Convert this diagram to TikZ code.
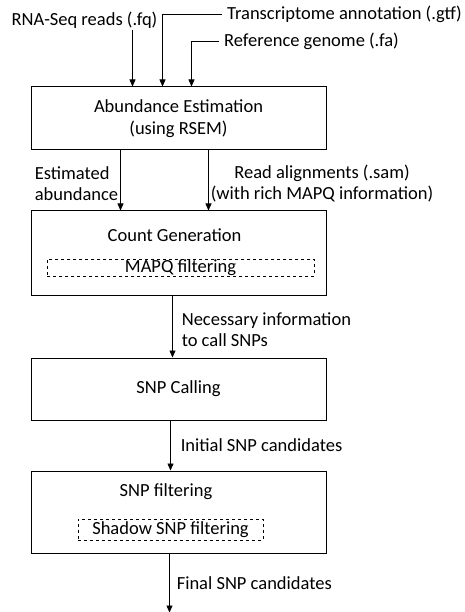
\documentclass[tikz,border=0pt]{standalone}
\usepackage{fontspec}
\setmainfont{Carlito}
\usepackage{tikz}
\usetikzlibrary{positioning}
\usetikzlibrary{calc}
\usetikzlibrary{arrows.meta}

\begin{document}
\begin{tikzpicture}[
        x=1pt, y=-1pt,
        font=\fontsize{18.5}{21.5}\selectfont,
        stage/.style={rectangle, draw=black, line width=1pt, minimum width=295pt, align=center, inner sep=0pt},
        sub/.style={rectangle, draw=black, dashed, line width=0.8pt, inner sep=0pt},
        lbl/.style={inner sep=2pt},
        input/.style={inner xsep=5pt, inner ysep=2pt, anchor=west},
        flow/.style={-{Triangle[length=7pt,width=6pt]}, line width=0.6pt}
    ]
    \useasboundingbox (0,0) rectangle (464,612);

    \node[stage, minimum height=63pt] (abund) at (178.5,118.5) {Abundance Estimation\\(using RSEM)};
    \node[stage, minimum height=84pt] (count) [below=60pt of abund] {};
    \node (count_t) at ([xshift=-4pt,yshift=-25pt]count.north) {Count Generation};
    \node[sub, minimum width=267pt, minimum height=17pt] (mapq) at ([xshift=2pt,yshift=-14.5pt]count.center) {MAPQ filtering};
    \node[stage, minimum height=62pt] (call) [below=62pt of count] {SNP Calling};
    \node[stage, minimum height=82pt] (filt) [below=50pt of call] {};
    \node (filt_t) at ([xshift=-12.5pt,yshift=-21pt]filt.north) {SNP filtering};
    \node[sub, minimum width=185pt, minimum height=21pt] (shadow) at ([xshift=-8pt,yshift=-17.5pt]filt.center) {Shadow SNP filtering};

    % inputs
    \node[lbl] (rna) at (84.5,20) {RNA-Seq reads (.fq)};
    \node[input] (gtf) at (222,14) {Transcriptome annotation (.gtf)};
    \node[input] (fa) at (219,41) {Reference genome (.fa)};
    \coordinate (in_1) at ([xshift=102pt]abund.north west);
    \coordinate (in_2) at ([xshift=132pt]abund.north west);
    \coordinate (in_3) at ([xshift=161pt]abund.north west);
    \coordinate (out) at ([xshift=139pt,yshift=-59pt]filt.south west);

    \draw[flow] (rna.south -| in_1) to (in_1);
    \draw[flow] (gtf.west) -| (in_2);
    \draw[flow] (fa.west) -| (in_3);

    \draw[flow] ([xshift=90pt]abund.south west) to node[lbl, left, align=left, pos=0.55] {Estimated\\abundance} ([xshift=90pt]count.north west);
    \draw[flow] ([xshift=178pt]abund.south west) to node[lbl, right, align=center, pos=0.55] {Read alignments (.sam)\\(with rich MAPQ information)} ([xshift=178pt]count.north west);
    \draw[flow] ([xshift=142pt]count.south west) to node[lbl, right, align=left, pos=0.55, xshift=7pt] {Necessary information\\to call SNPs} ([xshift=142pt]call.north west);
    \draw[flow] ([xshift=140pt]call.south west) to node[lbl, right, pos=0.5, xshift=8pt] {Initial SNP candidates} ([xshift=140pt]filt.north west);
    \draw[flow] ([xshift=139pt]filt.south west) to node[lbl, right, pos=0.5, xshift=5pt] {Final SNP candidates} (out);
\end{tikzpicture}
\end{document}
